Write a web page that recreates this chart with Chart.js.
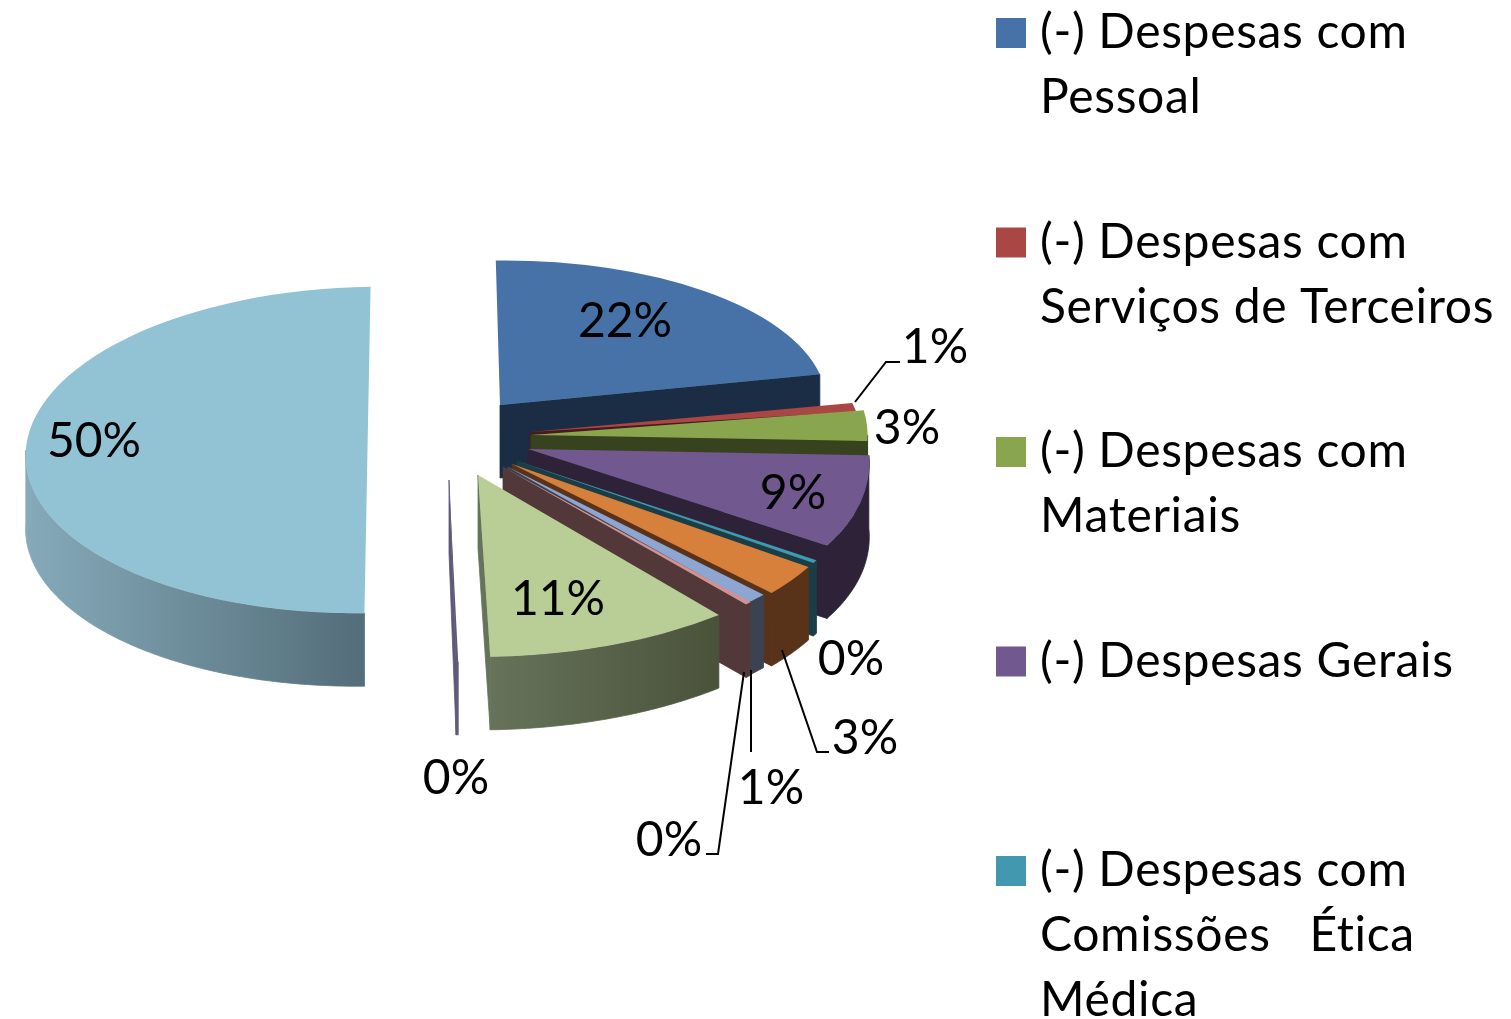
<!DOCTYPE html>
<html>
<head>
<meta charset="utf-8">
<title>Despesas</title>
<script src="https://cdn.jsdelivr.net/npm/chart.js@4"></script>
<style>
  html, body { margin: 0; padding: 0; background: #fff; overflow: hidden; }
  #wrap { width: 1511px; height: 1019px; position: relative; }
</style>
</head>
<body>
<div id="wrap"><canvas id="pie" width="1511" height="1019"></canvas></div>
<script>
//-----------------------------------------
// DATA
//-----------------------------------------
const sliceValues = [22, 1, 3, 8.8, 0.3, 3, 1, 0.3, 10.5, 0.1, 50];

const legendEntries = [
  ["(-) Despesas com", "Pessoal"],
  ["(-) Despesas com", "Serviços de Terceiros"],
  ["(-) Despesas com", "Materiais"],
  ["(-) Despesas Gerais"],
  ["(-) Despesas com", "Comissões   Ética", "Médica"]
];

//-----------------------------------------
// COLOURS
//-----------------------------------------
const topColors = ["#4672A8", "#AA4643", "#89A54E", "#71588F", "#4198AF", "#D6803C",
                   "#8DA5D1", "#D19392", "#B9CD96", "#5F5878", "#92C3D4"];
const wallLeft  = ["#1A2D45", "#451C1B", "#37421F", "#2D2238", "#1A3D46", "#58331A",
                   "#3B4353", "#533839", "#66735A", "#5F5878", "#86AABA"];
const wallRight = ["#1A2D45", "#451C1B", "#37421F", "#2D2238", "#1A3D46", "#58331A",
                   "#3B4353", "#533839", "#4A523A", "#5F5878", "#536D79"];

//-----------------------------------------
// 3D LOOK (one entry per slice)
//-----------------------------------------
const explodeX = [20, 50, 51, 48, 37, 32, 28, 23, -2, -31, -112.5];
const explodeY = [-35, -8, -5, 9, 21, 24, 27, 27, 35, 40, 10];
const flatten  = [0.425, 0.40, 0.48, 0.51, 0.525, 0.53, 0.525, 0.525, 0.535, 0.535, 0.48];
const stretch  = [0.96, 0.97, 0.99, 1, 1, 1, 1, 1, 1.11, 1, 1.005];
const lean     = [-0.03, 0, 0, 0.17, 0.17, 0.17, 0.14, 0.19, 0, -0.01, -0.0736];
const wallDepth = 73;

//-----------------------------------------
// LABEL PLACES (same order as the slices)
//-----------------------------------------
const labelX = [625, 935, 907, 793, 851, 865, 771, 669, 558, 456, 94];
const labelY = [322, 348, 429, 494, 660, 739, 789, 841, 600, 779, 442];
const leaderLines = [
  [[855, 402], [886, 362], [900, 362]],
  [[782, 650], [817, 752], [829, 752]],
  [[751, 670], [751, 752]],
  [[744, 672], [718, 854], [706, 854]]
];
const labelFont = "48px Lato";
const legendFont = "48px Lato";
const legendSpacing = "0.65px";


//------------------------------------------------------
// WHERE A POINT OF A SLICE ENDS UP ON SCREEN
//------------------------------------------------------
function screenPoint(arc, i, angle, radius) {
  const y = flatten[i] * radius * Math.sin(angle);
  return {
    x: arc.x + explodeX[i] + stretch[i] * radius * Math.cos(angle) + lean[i] * y,
    y: arc.y + explodeY[i] + y
  };
}

function fillPoly(ctx, pts, fill) {
  ctx.beginPath();
  pts.forEach((p, n) => n ? ctx.lineTo(p.x, p.y) : ctx.moveTo(p.x, p.y));
  ctx.closePath();
  ctx.fillStyle = fill;
  ctx.fill();
  // Hide the seam between cut face and wall
  ctx.strokeStyle = fill;
  ctx.lineWidth = 0.8;
  ctx.stroke();
}

function down(p) {
  return { x: p.x, y: p.y + wallDepth };
}


//------------------------------------------------------
// SIDES OF ONE SLICE: CUT FACE + OUTER WALL
//------------------------------------------------------
function drawSides(ctx, arc, i) {
  const r = arc.outerRadius;
  const apex = screenPoint(arc, i, 0, 0);
  const a0 = arc.startAngle;
  const a1 = arc.endAngle;

  // Cut face that looks to the viewer
  if (a1 > -Math.PI / 2 && a1 < Math.PI) {
    const p = screenPoint(arc, i, a1, r);
    fillPoly(ctx, [apex, p, down(p), down(apex)], wallLeft[i]);
  } else if (a0 > Math.PI / 2) {
    const p = screenPoint(arc, i, a0, r);
    fillPoly(ctx, [apex, p, down(p), down(apex)], wallLeft[i]);
  }

  // Outer wall, front half only
  const from = Math.max(a0, 0);
  const to = Math.min(a1, Math.PI);
  if (to <= from) return;

  const topEdge = [];
  const steps = Math.max(2, Math.ceil((to - from) * 60));
  for (let s = 0; s <= steps; s++) {
    topEdge.push(screenPoint(arc, i, from + (to - from) * s / steps, r));
  }
  const xs = topEdge.map(p => p.x);
  const grad = ctx.createLinearGradient(Math.min(...xs), 0, Math.max(...xs), 0);
  grad.addColorStop(0, wallLeft[i]);
  grad.addColorStop(1, wallRight[i]);
  fillPoly(ctx, topEdge.concat(topEdge.map(down).reverse()), grad);
}


//------------------------------------------------------
// PLUGIN: DRAW THE PIE TILTED, SLICE BY SLICE
//------------------------------------------------------
const tiltedPie = {
  id: "tiltedPie",
  beforeDatasetDraw(chart, args) {
    const ctx = chart.ctx;
    args.meta.data.forEach((arc, i) => {
      drawSides(ctx, arc, i);

      const a = screenPoint(arc, i, 0, 0);
      ctx.save();
      ctx.transform(stretch[i], 0, lean[i] * flatten[i], flatten[i], a.x, a.y);
      ctx.translate(-arc.x, -arc.y);
      arc.draw(ctx);
      ctx.restore();
    });
    return false;
  },
  afterDraw(chart) {
    const ctx = chart.ctx;
    ctx.save();

    // Leader lines
    ctx.strokeStyle = "#000";
    ctx.lineWidth = 2;
    for (let line of leaderLines) {
      ctx.beginPath();
      line.forEach((p, n) => n ? ctx.lineTo(p[0], p[1]) : ctx.moveTo(p[0], p[1]));
      ctx.stroke();
    }

    // Percent labels
    ctx.fillStyle = "#000";
    ctx.font = labelFont;
    ctx.textAlign = "center";
    ctx.textBaseline = "middle";
    sliceValues.forEach((v, i) => {
      ctx.fillText(Math.round(v) + "%", labelX[i], labelY[i]);
    });

    // Legend, runs off the bottom of the page like the original
    ctx.font = legendFont;
    ctx.letterSpacing = legendSpacing;
    ctx.textAlign = "left";
    legendEntries.forEach((lines, i) => {
      const y = 33 + i * 209.5;
      ctx.fillStyle = topColors[i];
      ctx.fillRect(996, y - 15, 30, 30);
      ctx.fillStyle = "#000";
      lines.forEach((t, n) => ctx.fillText(t, 1040, y + n * 64.7));
    });

    ctx.restore();
  }
};


//------------------------------------------------------
// CHART
//------------------------------------------------------
new Chart(document.getElementById("pie"), {
  type: "pie",
  data: {
    labels: sliceValues.map((v, i) => (legendEntries[i] ? legendEntries[i].join(" ") : "")),
    datasets: [
      {
        data: sliceValues,
        backgroundColor: topColors,
        borderWidth: 0
      }
    ]
  },
  options: {
    responsive: false,
    animation: false,
    radius: 340,
    rotation: -1.5,
    layout: { padding: { right: 551, bottom: 139 } },
    plugins: {
      legend: { display: false },
      tooltip: { enabled: false }
    }
  },
  plugins: [tiltedPie]
});
</script>
</body>
</html>
